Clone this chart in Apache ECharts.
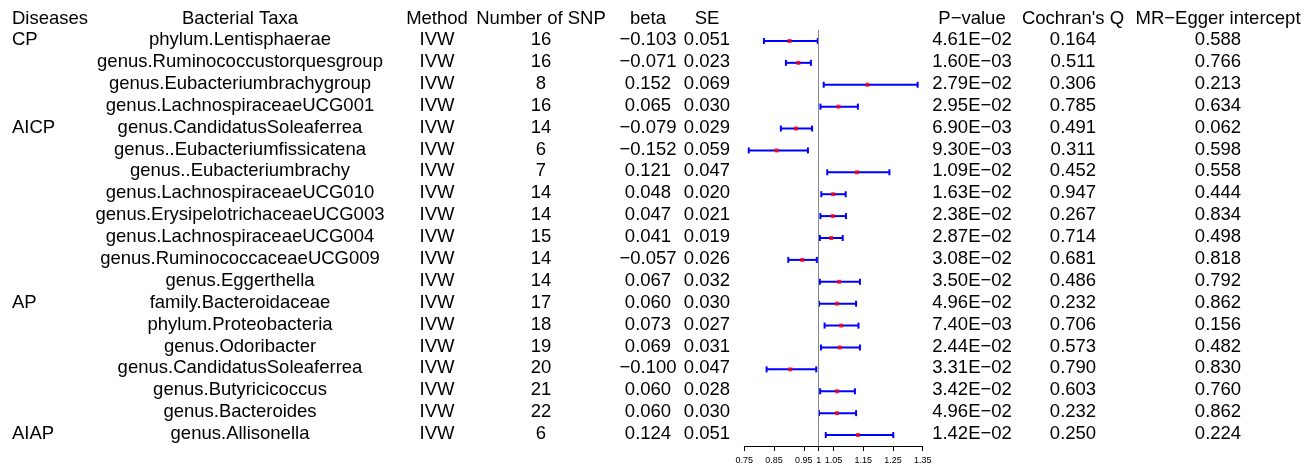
<!DOCTYPE html>
<html><head><meta charset="utf-8">
<script src="https://cdn.jsdelivr.net/npm/echarts@6/dist/echarts.min.js"></script>
<style>html,body{margin:0;padding:0;background:#fff}#c{width:1316px;height:465px}</style>
</head><body><div id="c"></div>
<script>
const headers = ['Diseases', 'Bacterial Taxa', 'Method', 'Number of SNP', 'beta', 'SE', 'P\u2212value', "Cochran's Q", 'MR\u2212Egger intercept'];
const diseases = ['CP', '', '', '', 'AICP', '', '', '', '', '', '', '', 'AP', '', '', '', '', '', 'AIAP'];
const taxa = ['phylum.Lentisphaerae', 'genus.Ruminococcustorquesgroup', 'genus.Eubacteriumbrachygroup', 'genus.LachnospiraceaeUCG001',
  'genus.CandidatusSoleaferrea', 'genus..Eubacteriumfissicatena', 'genus..Eubacteriumbrachy', 'genus.LachnospiraceaeUCG010',
  'genus.ErysipelotrichaceaeUCG003', 'genus.LachnospiraceaeUCG004', 'genus.RuminococcaceaeUCG009', 'genus.Eggerthella',
  'family.Bacteroidaceae', 'phylum.Proteobacteria', 'genus.Odoribacter', 'genus.CandidatusSoleaferrea',
  'genus.Butyricicoccus', 'genus.Bacteroides', 'genus.Allisonella'];
const methods = ['IVW', 'IVW', 'IVW', 'IVW', 'IVW', 'IVW', 'IVW', 'IVW', 'IVW', 'IVW', 'IVW', 'IVW', 'IVW', 'IVW', 'IVW', 'IVW', 'IVW', 'IVW', 'IVW'];
const nSNP = [16, 16, 8, 16, 14, 6, 7, 14, 14, 15, 14, 14, 17, 18, 19, 20, 21, 22, 6];
const betas = [-0.103, -0.071, 0.152, 0.065, -0.079, -0.152, 0.121, 0.048, 0.047, 0.041, -0.057, 0.067, 0.060, 0.073, 0.069, -0.100, 0.060, 0.060, 0.124];
const ses = [0.051, 0.023, 0.069, 0.030, 0.029, 0.059, 0.047, 0.020, 0.021, 0.019, 0.026, 0.032, 0.030, 0.027, 0.031, 0.047, 0.028, 0.030, 0.051];
const pValues = ['4.61E\u221202', '1.60E\u221203', '2.79E\u221202', '2.95E\u221202', '6.90E\u221203', '9.30E\u221203', '1.09E\u221202', '1.63E\u221202',
  '2.38E\u221202', '2.87E\u221202', '3.08E\u221202', '3.50E\u221202', '4.96E\u221202', '7.40E\u221203', '2.44E\u221202', '3.31E\u221202',
  '3.42E\u221202', '4.96E\u221202', '1.42E\u221202'];
const cochranQ = ['0.164', '0.511', '0.306', '0.785', '0.491', '0.311', '0.452', '0.947', '0.267', '0.714', '0.681', '0.486', '0.232', '0.706', '0.573', '0.790', '0.603', '0.232', '0.250'];
const eggerIntercept = ['0.588', '0.766', '0.213', '0.634', '0.062', '0.598', '0.558', '0.444', '0.834', '0.498', '0.818', '0.792', '0.862', '0.156', '0.482', '0.830', '0.760', '0.862', '0.224'];
// odds ratios and 95% CI as drawn in the forest panel
const orEst = [0.902, 0.932, 1.164, 1.067, 0.924, 0.859, 1.129, 1.049, 1.048, 1.042, 0.945, 1.069, 1.062, 1.076, 1.071, 0.905, 1.062, 1.062, 1.132];
const ciLow = [0.816, 0.890, 1.017, 1.006, 0.873, 0.765, 1.029, 1.009, 1.006, 1.004, 0.898, 1.004, 1.001, 1.020, 1.008, 0.825, 1.005, 1.001, 1.024];
const ciHigh = [0.997, 0.974, 1.333, 1.132, 0.978, 0.964, 1.238, 1.091, 1.092, 1.081, 0.994, 1.139, 1.126, 1.134, 1.139, 0.992, 1.122, 1.126, 1.251];
const xTicks = [0.75, 0.85, 0.95, 1, 1.05, 1.15, 1.25, 1.35];

const FONT = '"Liberation Sans", Arial, sans-serif';
const FS = 18.5;
const rows = taxa.map((_, i) => String(i));
const fmt3 = v => (v < 0 ? '\u2212' : '') + Math.abs(v).toFixed(3);

// column layout: [x, align]
const cols = [
  [12, 'left'], [240, 'center'], [437, 'center'], [541, 'center'], [648, 'center'], [707, 'center'],
  [972, 'center'], [1073, 'center'], [1218, 'center']
];
const colText = i => [diseases[i], taxa[i], methods[i], String(nSNP[i]), fmt3(betas[i]), ses[i].toFixed(3), pValues[i], cochranQ[i], eggerIntercept[i]];

const chart = echarts.init(document.getElementById('c'), null, {renderer: 'canvas'});
const HEADER_Y = 19;
chart.setOption({
  animation: false,
  backgroundColor: '#fff',
  grid: {left: 744.3, width: 178.4, top: 30, height: 416},
  xAxis: {
    type: 'value', min: 0.75, max: 1.35,
    axisLine: {show: true, lineStyle: {color: '#000', width: 1}},
    axisTick: {show: true, customValues: xTicks, length: 5, lineStyle: {color: '#000', width: 1}},
    axisLabel: {customValues: xTicks, formatter: v => String(v), fontSize: 9, color: '#000', margin: 10, fontFamily: FONT},
    splitLine: {show: false}
  },
  yAxis: {type: 'category', data: rows, inverse: true, show: false},
  graphic: headers.map((h, k) => ({
    type: 'text', x: cols[k][0], y: HEADER_Y,
    style: {text: h, fill: '#000', font: FS + 'px ' + FONT, textAlign: cols[k][1], textVerticalAlign: 'middle'}
  })),
  series: [
    {
      type: 'custom', clip: false, silent: true,
      data: rows.map((r, i) => [1, i]),
      encode: {x: 0, y: 1},
      renderItem: (params, api) => {
        const i = api.value(1);
        const y = api.coord([1, i])[1] - 1;
        const t = colText(i);
        return {
          type: 'group',
          children: t.map((s, k) => ({
            type: 'text', x: cols[k][0], y: y,
            style: {text: s, fill: '#000', font: FS + 'px ' + FONT, textAlign: cols[k][1], textVerticalAlign: 'middle'}
          }))
        };
      }
    },
    {
      type: 'custom', clip: false, silent: true,
      data: rows.map((r, i) => [ciLow[i], ciHigh[i], i]),
      encode: {x: [0, 1], y: 2},
      renderItem: (params, api) => {
        const a = api.coord([api.value(0), api.value(2)]);
        const b = api.coord([api.value(1), api.value(2)]);
        const st = {stroke: '#0000ff', lineWidth: 2};
        return {
          type: 'group',
          children: [
            {type: 'line', shape: {x1: a[0], y1: a[1], x2: b[0], y2: b[1]}, style: st},
            {type: 'line', shape: {x1: a[0], y1: a[1] - 3, x2: a[0], y2: a[1] + 3}, style: st},
            {type: 'line', shape: {x1: b[0], y1: b[1] - 3, x2: b[0], y2: b[1] + 3}, style: st}
          ]
        };
      }
    },
    {
      type: 'scatter', silent: true,
      data: rows.map((r, i) => [orEst[i], i]),
      symbol: 'rect', symbolSize: 4,
      itemStyle: {color: '#ff0000'},
      z: 5,
      markLine: {
        silent: true, symbol: 'none', label: {show: false},
        lineStyle: {color: '#888', width: 1, type: 'solid'},
        data: [{xAxis: 1}]
      }
    }
  ]
});
</script></body></html>
